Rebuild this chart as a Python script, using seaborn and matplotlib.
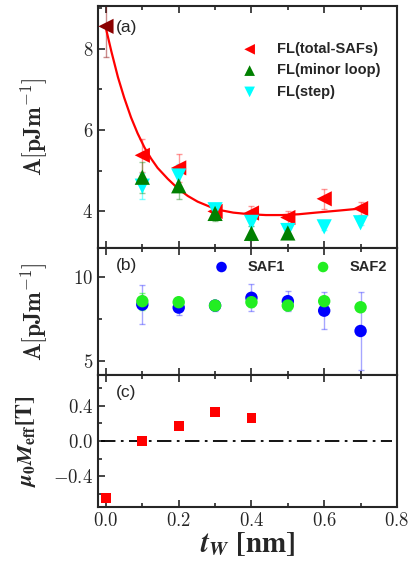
import numpy as np
import pandas as pd
import matplotlib
matplotlib.use("Agg")
import matplotlib.pyplot as plt
import seaborn as sns
from matplotlib.ticker import MultipleLocator, FuncFormatter

# ---------------- data ----------------
tw = [0.0, 0.1, 0.2, 0.3, 0.4, 0.5, 0.6, 0.7]

# (a) exchange stiffness
fl_total = [8.55, 5.38, 5.07, 4.00, 3.96, 3.85, 4.31, 4.07]
fl_total_err = [0.75, 0.40, 0.35, 0.15, 0.17, 0.17, 0.24, 0.17]

tw_minor = [0.1, 0.2, 0.3, 0.4, 0.5]
fl_minor = [4.84, 4.63, 3.95, 3.46, 3.47]
fl_minor_err = [0.38, 0.33, 0.18, 0.17, 0.12]

tw_step = [0.1, 0.2, 0.3, 0.4, 0.5, 0.6, 0.7]
fl_step = [4.62, 4.87, 4.04, 3.73, 3.53, 3.62, 3.72]
fl_step_err = [0.32, 0.30, 0.15, 0.10, 0.10, 0.08, 0.06]

# red fit curve
fit_x = [0.0, 0.015, 0.033, 0.05, 0.069, 0.087, 0.106, 0.124, 0.142, 0.17,
         0.197, 0.225, 0.252, 0.303, 0.35, 0.395, 0.44, 0.485, 0.53, 0.577,
         0.64, 0.70]
fit_y = [8.50, 7.93, 7.30, 6.80, 6.31, 5.92, 5.57, 5.30, 5.07, 4.80,
         4.57, 4.38, 4.24, 4.05, 3.97, 3.93, 3.91, 3.91, 3.93, 3.97,
         4.02, 4.07]

# (b) SAF1 / SAF2
tw_saf = [0.1, 0.2, 0.3, 0.4, 0.5, 0.6, 0.7]
saf1 = [8.36, 8.18, 8.30, 8.76, 8.56, 8.00, 6.80]
saf1_err = [1.15, 0.45, 0.30, 0.80, 0.60, 1.10, 2.30]
saf2 = [8.56, 8.50, 8.30, 8.50, 8.30, 8.56, 8.20]
saf2_err = [0.50, 0.25, 0.20, 0.30, 0.25, 0.15, 0.20]

# (c) effective magnetisation
tw_meff = [0.0, 0.1, 0.2, 0.3, 0.4]
meff = [-0.645, 0.0, 0.17, 0.325, 0.26]

sns.set_style("ticks")
plt.rcParams["font.family"] = ["Liberation Sans", "DejaVu Sans"]
plt.rcParams["mathtext.fontset"] = "cm"
plt.rcParams["axes.linewidth"] = 1.5
plt.rcParams["xtick.direction"] = "in"
plt.rcParams["ytick.direction"] = "in"

fig = plt.figure(figsize=(4.15, 5.63), dpi=100)
L, W = 0.236, 0.7205
ax_a = fig.add_axes([L, 0.5595, W, 0.4298])
ax_b = fig.add_axes([L, 0.3339, W, 0.2256])
ax_c = fig.add_axes([L, 0.0995, W, 0.2345])

leg_font = {"family": "Liberation Sans", "weight": "bold", "size": 10.5}

#########################################################
# (a)
#########################################################
ax_a.errorbar(tw[1:], fl_total[1:], yerr=fl_total_err[1:], fmt="none",
              ecolor="red", alpha=0.4, elinewidth=1, capsize=2.5, zorder=1)
ax_a.errorbar(tw[:1], fl_total[:1], yerr=fl_total_err[:1], fmt="none",
              ecolor="#8b0000", alpha=0.45, elinewidth=1, capsize=2.5, zorder=1)
ax_a.errorbar(tw_step, fl_step, yerr=fl_step_err, fmt="none",
              ecolor="cyan", alpha=0.5, elinewidth=1, capsize=2.5, zorder=1)
ax_a.errorbar(tw_minor, fl_minor, yerr=fl_minor_err, fmt="none",
              ecolor="green", alpha=0.4, elinewidth=1, capsize=2.5, zorder=1)

sns.lineplot(x=fit_x, y=fit_y, color="red", lw=1.6, ax=ax_a, zorder=2)
sns.scatterplot(x=tw[1:], y=fl_total[1:], marker="<", s=120, color="red",
                edgecolor="none", ax=ax_a, zorder=3, label="FL(total-SAFs)")
sns.scatterplot(x=tw[:1], y=fl_total[:1], marker="<", s=120, color="#8b0000",
                edgecolor="none", ax=ax_a, zorder=3)
sns.scatterplot(x=tw_step, y=fl_step, marker="v", s=120, color="cyan",
                edgecolor="none", ax=ax_a, zorder=3, label="FL(step)")
sns.scatterplot(x=tw_minor, y=fl_minor, marker="^", s=120, color="green",
                edgecolor="none", ax=ax_a, zorder=4, label="FL(minor loop)")

h, l = ax_a.get_legend_handles_labels()
order = [l.index("FL(total-SAFs)"), l.index("FL(minor loop)"), l.index("FL(step)")]
ax_a.legend([h[i] for i in order], [l[i] for i in order], loc="upper right",
            bbox_to_anchor=(0.99, 0.905), frameon=False, prop=leg_font,
            handletextpad=0.9, labelspacing=0.5, markerscale=0.7)

ax_a.set_ylim(3.1, 9.05)
ax_a.yaxis.set_major_locator(MultipleLocator(2))
ax_a.yaxis.set_minor_locator(MultipleLocator(1))
ax_a.set_ylabel(r"$\mathbf{A[pJm}^{\mathbf{-1}}\mathbf{]}$", fontsize=17)
ax_a.text(0.06, 0.91, "(a)", transform=ax_a.transAxes, fontsize=12.5,
          va="center", ha="left")

#########################################################
# (b)
#########################################################
ax_b.errorbar(tw_saf, saf1, yerr=saf1_err, fmt="none", ecolor="blue",
              alpha=0.35, elinewidth=1, capsize=2.5, zorder=1)
ax_b.errorbar(tw_saf, saf2, yerr=saf2_err, fmt="none", ecolor="lime",
              alpha=0.5, elinewidth=1, capsize=2.5, zorder=1)
sns.scatterplot(x=tw_saf, y=saf1, marker="o", s=80, color="blue",
                edgecolor="none", ax=ax_b, zorder=3, label="SAF1")
sns.scatterplot(x=tw_saf, y=saf2, marker="o", s=80, color="#22ee22",
                edgecolor="none", ax=ax_b, zorder=4, label="SAF2")
ax_b.legend(loc="upper right", bbox_to_anchor=(1.01, 1.01), ncol=2,
            frameon=False, prop=leg_font, columnspacing=1.6,
            handletextpad=0.8, markerscale=0.85)
ax_b.set_ylim(4.2, 11.7)
ax_b.yaxis.set_major_locator(MultipleLocator(5))
ax_b.yaxis.set_minor_locator(MultipleLocator(2.5))
ax_b.set_ylabel(r"$\mathbf{A[pJm}^{\mathbf{-1}}\mathbf{]}$", fontsize=17)
ax_b.text(0.06, 0.86, "(b)", transform=ax_b.transAxes, fontsize=12.5,
          va="center", ha="left")

#########################################################
# (c)
#########################################################
ax_c.axhline(0, xmin=0.01, xmax=0.985, color="black", lw=1.3,
             ls=(0, (8, 3, 1.5, 3)), zorder=1)
sns.scatterplot(x=tw_meff, y=meff, marker="s", s=50, color="red",
                edgecolor="none", ax=ax_c, zorder=3)
ax_c.set_ylim(-0.75, 0.75)
ax_c.yaxis.set_major_locator(MultipleLocator(0.4))
ax_c.yaxis.set_minor_locator(MultipleLocator(0.2))
ax_c.set_ylabel(r"$\mathbfit{\mu}_{\mathbf{0}}\mathbfit{M}_{\mathbf{eff}}\mathbf{[T]}$",
                fontsize=16, math_fontfamily="stix")
ax_c.set_xlabel(r"$\mathbfit{t}_{\mathbfit{W}}\ \mathbf{[nm]}$", fontsize=21,
                labelpad=0, math_fontfamily="stix")
ax_c.text(0.06, 0.87, "(c)", transform=ax_c.transAxes, fontsize=12.5,
          va="center", ha="left")

#########################################################
# shared axis styling
#########################################################
fmt1 = FuncFormatter(lambda v, p: "$%.1f$" % v)
fmtg = FuncFormatter(lambda v, p: "$%g$" % v)
for ax in (ax_a, ax_b, ax_c):
    ax.set_xlim(-0.022, 0.8)
    ax.xaxis.set_major_locator(MultipleLocator(0.2))
    ax.xaxis.set_minor_locator(MultipleLocator(0.1))
    ax.tick_params(which="both", top=True, bottom=True, left=True, right=False,
                   width=1.2, labelsize=13.5)
    ax.tick_params(which="major", length=5)
    ax.tick_params(which="minor", length=3)
    if ax is not ax_c:
        ax.tick_params(labelbottom=False)
        ax.set_xlabel("")
    ax.yaxis.set_major_formatter(fmt1 if ax is ax_c else fmtg)
ax_c.xaxis.set_major_formatter(fmt1)
for ax in (ax_a, ax_b):
    ax.yaxis.set_label_coords(-0.165, 0.5)
ax_c.yaxis.set_label_coords(-0.2, 0.5)

fig.savefig("out.png", dpi=100)
